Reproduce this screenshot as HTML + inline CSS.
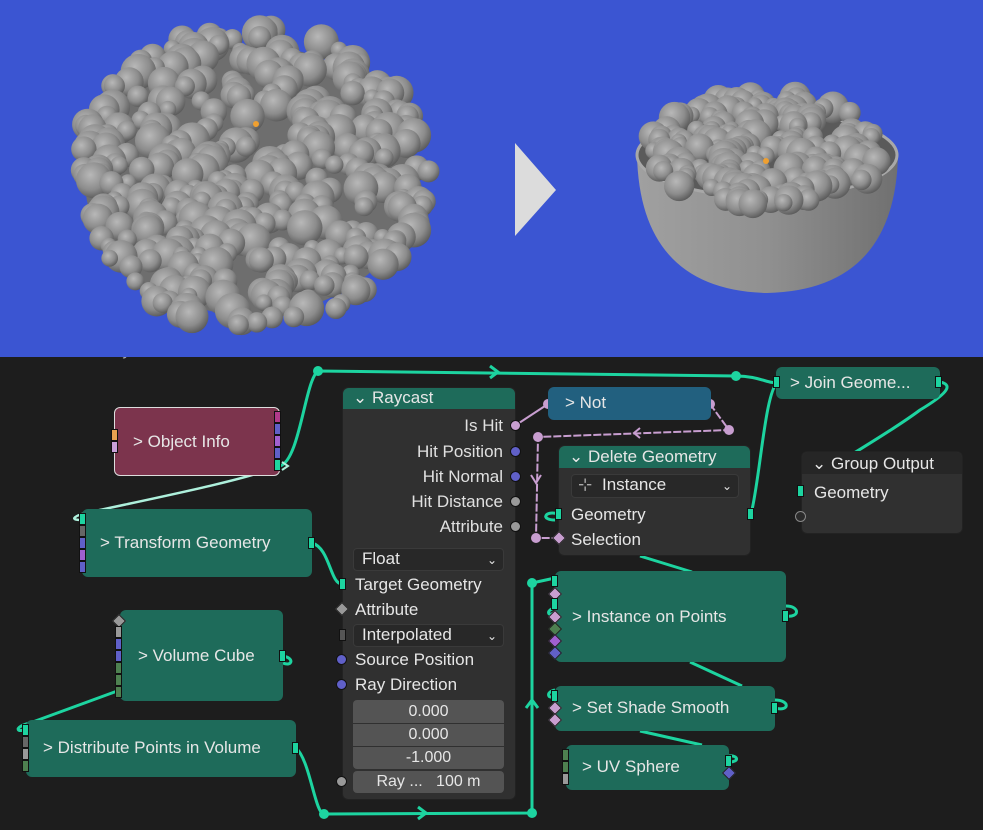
<!DOCTYPE html>
<html><head><meta charset="utf-8">
<style>
*{margin:0;padding:0;box-sizing:border-box}
body{width:983px;height:830px;overflow:hidden;background:#1d1d1d;font-family:"Liberation Sans","DejaVu Sans",sans-serif;position:relative}
#top{position:absolute;left:0;top:0;width:983px;height:357px;background:#3b55d2;overflow:hidden}
.n{position:absolute;border-radius:6px;color:#e6e6e6;font-size:17px}
.t{background:#1e6b5a}
.lab{position:absolute;white-space:nowrap}
.sock{position:absolute;width:7px;height:12px;border:1px solid #111}
.dot{position:absolute;width:11px;height:11px;border-radius:50%;border:1px solid #111}
.dia{position:absolute;width:10px;height:10px;transform:rotate(45deg);border:1px solid #222}
.row{position:absolute;right:26px;font-size:17px;color:#e0e0e0}
.fld{position:absolute;background:#545454;color:#e6e6e6;font-size:16px;text-align:center}
.dd{position:absolute;background:#282828;border:1px solid #3a3a3a;border-radius:4px;font-size:17px;color:#e6e6e6;padding-left:8px}
</style></head><body>
<div id="top">
<svg id="sp" width="983" height="357" style="position:absolute;left:0;top:0">
<defs>
<radialGradient id="g" cx="0.4" cy="0.35" r="0.7"><stop offset="0" stop-color="#b8b8b8"/><stop offset="0.6" stop-color="#8c8c8c"/><stop offset="1" stop-color="#555"/></radialGradient>
<linearGradient id="bw" x1="0" y1="0" x2="1" y2="0"><stop offset="0" stop-color="#a0a0a0"/><stop offset="0.5" stop-color="#909090"/><stop offset="1" stop-color="#707070"/></linearGradient>
</defs>
<ellipse cx="250" cy="180" rx="165" ry="135" fill="#6e6e6e"/>
<path d="M637,155 Q640,290 767,293 Q895,290 898,155 Z" fill="url(#bw)"/>
<ellipse cx="767" cy="155" rx="130" ry="42" fill="#5a5a5a" stroke="#a8a8a8" stroke-width="3"/>
<g id="L"></g><g id="R"></g>
<polygon points="515,143 556,190 515,236" fill="#dcdcdc"/>
<circle cx="256" cy="124" r="3" fill="#f0a030"/>
<circle cx="766" cy="161" r="3" fill="#f0a030"/>
</svg>
</div>
<div class="lab" style="left:0;top:340px;font-size:17px;color:#aaa;clip-path:inset(17px 0 0 0)">des &nbsp;&gt; &nbsp;Geometry Nodes.002</div>

<svg width="983" height="830" style="position:absolute;left:0;top:0" fill="none">
<g stroke="#1dd4a0" stroke-width="3">
<path d="M280,466 C300,460 305,380 318,371 L736,376 C760,376 770,385 778,382"/>
<path d="M490,366 L498,372 L490,378"/>
<path d="M312,543 C330,548 330,584 342,584"/>
<path d="M283,656 C295,658 292,667 283,663"/>
<path d="M296,748 C310,760 315,814 324,814 L532,813 L532,583 L555,578"/>
<path d="M418,807 L426,813 L418,819"/>
<path d="M526,708 L532,700 L538,708"/>
<path d="M751,514 C760,480 765,390 778,382"/>
<path d="M940,382 C955,385 945,395 920,410 C880,440 820,470 801,491"/>
<path d="M786,616 C800,618 800,606 786,606"/>
<path d="M775,708 C790,712 790,700 775,700"/>
<path d="M729,762 C740,762 738,755 729,756"/>
<path d="M555,520 C540,520 545,510 558,514"/>
<path d="M640,556 L692,572"/>
<path d="M690,662 L742,686"/>
<path d="M640,731 L702,745"/>
<path d="M120,690 L30,723 C10,728 20,734 26,728"/>
<path d="M555,690 C545,692 548,700 555,696"/>
<path d="M555,608 C545,610 548,618 555,612"/>
</g>
<path d="M278,466 C250,480 120,505 82,514 C70,518 74,520 80,520" stroke="#aef0dc" stroke-width="2.5"/>
<path d="M282,462 L288,466 L282,470" stroke="#aef0dc" stroke-width="2"/>
<g stroke="#c89ed0" stroke-width="2">
<path d="M516,425 L548,404"/>
<path d="M710,404 L729,430 L538,437 L536,538 L558,538" stroke-dasharray="8,2"/>
<path d="M640,428 L634,433 L640,438"/>
<path d="M531,475 L536,483 L541,475"/>
</g>
<g fill="#1dd4a0"><circle cx="318" cy="371" r="5"/><circle cx="736" cy="376" r="5"/><circle cx="324" cy="814" r="5"/><circle cx="532" cy="813" r="5"/><circle cx="532" cy="583" r="5"/></g>
<g fill="#c89ed0"><circle cx="548" cy="404" r="5"/><circle cx="710" cy="404" r="5"/><circle cx="729" cy="430" r="5"/><circle cx="538" cy="437" r="5"/><circle cx="536" cy="538" r="5"/></g>
</svg>

<!-- Object Info -->
<div class="n" style="left:114px;top:407px;width:166px;height:69px;background:#7c344d;border:1px solid #ddd">
<div class="lab" style="left:18px;top:24px">&gt; Object Info</div></div>
<div class="sock" style="left:111px;top:429px;background:#e8a050"></div>
<div class="sock" style="left:111px;top:441px;background:#c8a0d8"></div>
<div class="sock" style="left:274px;top:411px;background:#b03a8a"></div>
<div class="sock" style="left:274px;top:423px;background:#6060c8"></div>
<div class="sock" style="left:274px;top:435px;background:#a060d0"></div>
<div class="sock" style="left:274px;top:447px;background:#6060c8"></div>
<div class="sock" style="left:274px;top:459px;background:#1dd4a0"></div>

<!-- Transform -->
<div class="n t" style="left:82px;top:509px;width:230px;height:68px"><div class="lab" style="left:18px;top:24px">&gt; Transform Geometry</div></div>
<div class="sock" style="left:79px;top:513px;background:#1dd4a0"></div>
<div class="sock" style="left:79px;top:525px;background:#666"></div>
<div class="sock" style="left:79px;top:537px;background:#6060c8"></div>
<div class="sock" style="left:79px;top:549px;background:#a060d0"></div>
<div class="sock" style="left:79px;top:561px;background:#6060c8"></div>
<div class="sock" style="left:308px;top:537px;background:#1dd4a0"></div>

<!-- Volume Cube -->
<div class="n t" style="left:120px;top:610px;width:163px;height:91px"><div class="lab" style="left:18px;top:36px">&gt; Volume Cube</div></div>
<div class="dia" style="left:114px;top:616px;background:#999"></div>
<div class="sock" style="left:115px;top:626px;background:#999"></div>
<div class="sock" style="left:115px;top:638px;background:#6060c8"></div>
<div class="sock" style="left:115px;top:650px;background:#6060c8"></div>
<div class="sock" style="left:115px;top:662px;background:#4e8050"></div>
<div class="sock" style="left:115px;top:674px;background:#4e8050"></div>
<div class="sock" style="left:115px;top:686px;background:#4e8050"></div>
<div class="sock" style="left:279px;top:650px;background:#1dd4a0"></div>

<!-- Distribute -->
<div class="n t" style="left:26px;top:720px;width:270px;height:57px"><div class="lab" style="left:17px;top:18px">&gt; Distribute Points in Volume</div></div>
<div class="sock" style="left:22px;top:724px;background:#1dd4a0"></div>
<div class="sock" style="left:22px;top:736px;background:#666"></div>
<div class="sock" style="left:22px;top:748px;background:#999"></div>
<div class="sock" style="left:22px;top:760px;background:#4e8050"></div>
<div class="sock" style="left:292px;top:742px;background:#1dd4a0"></div>

<!-- Raycast -->
<div class="n" style="left:342px;top:387px;width:174px;height:413px;background:#303030;border:1px solid #222">
<div style="position:absolute;left:0;top:0;width:172px;height:21px;background:#1e6b5a;border-radius:6px 6px 0 0"></div>
<div class="lab" style="left:10px;top:0px;font-size:17px">⌄ Raycast</div>
<div class="row" style="top:28px;right:12px">Is Hit</div>
<div class="row" style="top:54px;right:12px">Hit Position</div>
<div class="row" style="top:79px;right:12px">Hit Normal</div>
<div class="row" style="top:104px;right:12px">Hit Distance</div>
<div class="row" style="top:129px;right:12px">Attribute</div>
<div class="dd" style="left:10px;top:160px;width:151px;height:23px">Float<span style="position:absolute;right:6px;font-size:12px;top:4px">⌄</span></div>
<div class="lab" style="left:12px;top:187px;font-size:17px">Target Geometry</div>
<div class="lab" style="left:12px;top:212px;font-size:17px">Attribute</div>
<div class="dd" style="left:10px;top:236px;width:151px;height:23px">Interpolated<span style="position:absolute;right:6px;font-size:12px;top:4px">⌄</span></div>
<div class="lab" style="left:12px;top:262px;font-size:17px">Source Position</div>
<div class="lab" style="left:12px;top:287px;font-size:17px">Ray Direction</div>
<div class="fld" style="left:10px;top:312px;width:151px;height:23px;border-radius:4px 4px 0 0;line-height:23px">0.000</div>
<div class="fld" style="left:10px;top:336px;width:151px;height:22px;line-height:22px">0.000</div>
<div class="fld" style="left:10px;top:359px;width:151px;height:22px;border-radius:0 0 4px 4px;line-height:22px">-1.000</div>
<div class="fld" style="left:10px;top:383px;width:151px;height:22px;border-radius:4px;line-height:22px">Ray ... &nbsp;&nbsp;100 m</div>
</div>
<div class="dot" style="left:510px;top:420px;background:#c89ed0"></div>
<div class="dot" style="left:510px;top:446px;background:#6060c8"></div>
<div class="dot" style="left:510px;top:471px;background:#6060c8"></div>
<div class="dot" style="left:510px;top:496px;background:#999"></div>
<div class="dot" style="left:510px;top:521px;background:#999"></div>
<div class="sock" style="left:339px;top:578px;background:#1dd4a0"></div>
<div class="dia" style="left:337px;top:604px;background:#999"></div>
<div class="sock" style="left:339px;top:629px;background:#555"></div>
<div class="dot" style="left:336px;top:654px;background:#6060c8"></div>
<div class="dot" style="left:336px;top:679px;background:#6060c8"></div>
<div class="dot" style="left:336px;top:776px;background:#999"></div>

<!-- Not -->
<div class="n" style="left:548px;top:387px;width:163px;height:33px;background:#22607f"><div class="lab" style="left:17px;top:6px">&gt; Not</div></div>

<!-- Delete Geometry -->
<div class="n" style="left:558px;top:445px;width:193px;height:111px;background:#303030;border:1px solid #222">
<div style="position:absolute;left:0;top:0;width:191px;height:22px;background:#1e6b5a;border-radius:6px 6px 0 0"></div>
<div class="lab" style="left:10px;top:1px">⌄ Delete Geometry</div>
<div class="dd" style="left:12px;top:28px;width:168px;height:24px;padding-left:30px"><span style="position:absolute;left:6px;color:#aaa">⊹</span>Instance<span style="position:absolute;right:6px;font-size:12px;top:4px">⌄</span></div>
<div class="lab" style="left:12px;top:59px">Geometry</div>
<div class="lab" style="left:12px;top:84px">Selection</div>
</div>
<div class="sock" style="left:555px;top:508px;background:#1dd4a0"></div>
<div class="dia" style="left:554px;top:533px;background:#c89ed0"></div>
<div class="sock" style="left:747px;top:508px;background:#1dd4a0"></div>

<!-- Join -->
<div class="n t" style="left:776px;top:367px;width:164px;height:32px"><div class="lab" style="left:14px;top:6px">&gt; Join Geome...</div></div>
<div class="sock" style="left:773px;top:376px;background:#1dd4a0"></div>
<div class="sock" style="left:935px;top:376px;background:#1dd4a0"></div>

<!-- Group Output -->
<div class="n" style="left:801px;top:451px;width:162px;height:83px;background:#303030;border:1px solid #222">
<div style="position:absolute;left:0;top:0;width:160px;height:22px;background:#262626;border-radius:6px 6px 0 0"></div>
<div class="lab" style="left:10px;top:2px">⌄ Group Output</div>
<div class="lab" style="left:12px;top:31px">Geometry</div></div>
<div class="sock" style="left:797px;top:485px;background:#1dd4a0"></div>
<div class="dot" style="left:795px;top:511px;background:#2a2a2a;border-color:#888"></div>

<!-- Instance on Points -->
<div class="n t" style="left:555px;top:571px;width:231px;height:91px"><div class="lab" style="left:17px;top:36px">&gt; Instance on Points</div></div>
<div class="sock" style="left:551px;top:575px;background:#1dd4a0"></div>
<div class="dia" style="left:550px;top:589px;background:#c89ed0"></div>
<div class="sock" style="left:551px;top:598px;background:#1dd4a0"></div>
<div class="dia" style="left:550px;top:612px;background:#c89ed0"></div>
<div class="dia" style="left:550px;top:624px;background:#4e8050"></div>
<div class="dia" style="left:550px;top:636px;background:#a060d0"></div>
<div class="dia" style="left:550px;top:648px;background:#6060c8"></div>
<div class="sock" style="left:782px;top:610px;background:#1dd4a0"></div>

<!-- Set Shade Smooth -->
<div class="n t" style="left:555px;top:686px;width:220px;height:45px"><div class="lab" style="left:17px;top:12px">&gt; Set Shade Smooth</div></div>
<div class="sock" style="left:551px;top:690px;background:#1dd4a0"></div>
<div class="dia" style="left:550px;top:703px;background:#c89ed0"></div>
<div class="dia" style="left:550px;top:715px;background:#c89ed0"></div>
<div class="sock" style="left:771px;top:702px;background:#1dd4a0"></div>

<!-- UV Sphere -->
<div class="n t" style="left:566px;top:745px;width:163px;height:45px"><div class="lab" style="left:16px;top:12px">&gt; UV Sphere</div></div>
<div class="sock" style="left:562px;top:749px;background:#4e8050"></div>
<div class="sock" style="left:562px;top:761px;background:#4e8050"></div>
<div class="sock" style="left:562px;top:773px;background:#999"></div>
<div class="sock" style="left:725px;top:755px;background:#1dd4a0"></div>
<div class="dia" style="left:724px;top:768px;background:#6060c8"></div>

<script>
var s=12345;function r(){s=(s*16807)%2147483647;return s/2147483647;}
var NS="http://www.w3.org/2000/svg";
function add(g,cx,cy,rad){var c=document.createElementNS(NS,"circle");c.setAttribute("cx",cx);c.setAttribute("cy",cy);c.setAttribute("r",rad);c.setAttribute("fill","url(#g)");g.appendChild(c);}
var L=document.getElementById("L"),R=document.getElementById("R");
var arr=[];
for(var i=0;i<420;i++){var a=r()*6.283,d=Math.sqrt(r());var x=250+Math.cos(a)*d*180,y=178+Math.sin(a)*d*150;if(y>335)continue;arr.push([x,y,8+r()*10]);}
arr.sort(function(p,q){return p[1]-q[1]});arr.forEach(function(p){add(L,p[0],p[1],p[2])});
var b=[];
for(var i=0;i<200;i++){var a=r()*6.283,d=Math.sqrt(r());var x=767+Math.cos(a)*d*118,y=150+Math.sin(a)*d*55;b.push([x,y,8+r()*8]);}
b.sort(function(p,q){return p[1]-q[1]});b.forEach(function(p){add(R,p[0],p[1],p[2])});
</script>
</body></html>
